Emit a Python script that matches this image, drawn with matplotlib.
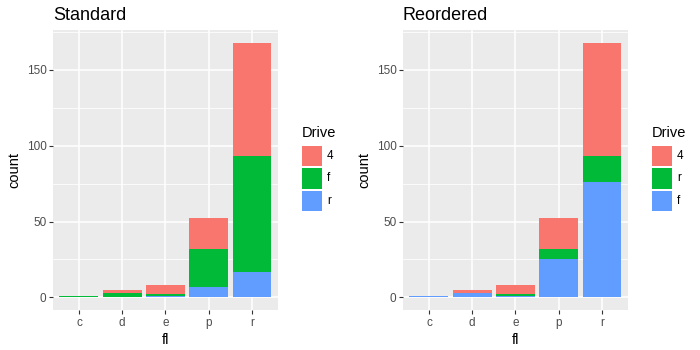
import matplotlib.pyplot as plt
from matplotlib.patches import Rectangle

# counts of cars by fuel type (fl) and drive train (drv)
fuel = ['c', 'd', 'e', 'p', 'r']
drive_4 = [0, 2, 6, 20, 75]
drive_f = [1, 3, 1, 25, 76]
drive_r = [0, 0, 1, 7, 17]
y_ticks = [0, 50, 100, 150]

RED = '#F8766D'
GREEN = '#00BA38'
BLUE = '#619CFF'
GREY_TXT = '#4D4D4D'

plt.rcParams['font.family'] = ['Liberation Sans', 'DejaVu Sans']

fig = plt.figure(figsize=(7, 3.5), dpi=100)


def panel(left, title, stack, legend_labels, legend_colors):
    ax = fig.add_axes([left, 0.1143, 0.3214, 0.8])
    ax.set_facecolor('#EBEBEB')
    for s in ax.spines.values():
        s.set_visible(False)
    x = list(range(1, len(fuel) + 1))
    bottom = [0] * len(fuel)
    # stack from the bottom up
    for values, color in stack:
        ax.bar(x, values, width=0.9, bottom=bottom, color=color, linewidth=0, zorder=3)
        bottom = [b + v for b, v in zip(bottom, values)]
    ax.set_xlim(0.4, 5.6)
    ax.set_ylim(-8.4, 176.4)
    ax.set_xticks(x)
    ax.set_xticklabels(fuel)
    ax.set_yticks(y_ticks)
    ax.set_yticks([25, 75, 125, 175], minor=True)
    ax.grid(which='major', color='white', linewidth=1.1, zorder=1)
    ax.grid(which='minor', axis='y', color='white', linewidth=0.55, zorder=1)
    ax.tick_params(which='major', length=2.7, width=0.8, color='#333333',
                   labelsize=8.5, labelcolor=GREY_TXT, pad=2)
    ax.tick_params(which='minor', length=0)
    ax.set_xlabel('fl', fontsize=10.5, labelpad=3)
    ax.set_ylabel('count', fontsize=10.5, labelpad=4)
    fig.text(left, 0.955, title, fontsize=13, ha='left', va='center')

    # legend
    lx = left + 249 / 700
    fig.text(lx, 1 - 133 / 350, 'Drive', fontsize=10.5, ha='left', va='center')
    kw, kh = 20.5 / 700, 20.5 / 350
    for i, (lab, col) in enumerate(zip(legend_labels, legend_colors)):
        ky = 1 - (145 + 22.5 * (i + 1) - 1.5) / 350
        fig.add_artist(Rectangle((lx, ky), kw, kh, transform=fig.transFigure,
                                 facecolor=col, edgecolor='none'))
        fig.text(lx + 25 / 700, ky + kh / 2, lab, fontsize=8.5,
                 ha='left', va='center')
    return ax


panel(0.0757, 'Standard',
      [(drive_r, BLUE), (drive_f, GREEN), (drive_4, RED)],
      ['4', 'f', 'r'], [RED, GREEN, BLUE])
panel(0.5757, 'Reordered',
      [(drive_f, BLUE), (drive_r, GREEN), (drive_4, RED)],
      ['4', 'r', 'f'], [RED, GREEN, BLUE])

fig.savefig('out.png', dpi=100, facecolor='white')
